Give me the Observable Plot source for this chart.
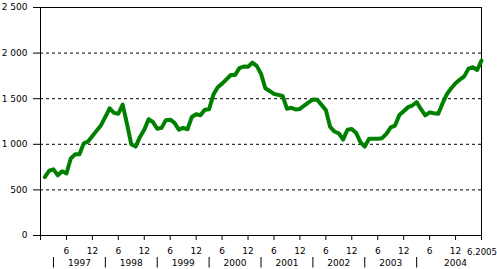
<!DOCTYPE html>
<html>
<head>
<meta charset="utf-8">
<script src="https://cdn.jsdelivr.net/npm/d3@7"></script>
<script src="https://cdn.jsdelivr.net/npm/@observablehq/plot@0.6"></script>
<style>
  html, body { margin: 0; padding: 0; background: #fff; }
  svg { overflow: hidden; display: block; }
</style>
</head>
<body>
<div id="chart"></div>
<script>
// Monthly values, Jan 1997 – Jun 2005
const values = [
  640, 710, 725, 660, 705, 680, 845, 890, 890, 1010, 1030, 1090,      // 1997
  1150, 1210, 1300, 1395, 1345, 1335, 1435, 1225, 1000, 975, 1080, 1160, // 1998
  1275, 1245, 1170, 1180, 1265, 1270, 1235, 1160, 1180, 1165, 1300, 1330, // 1999
  1318, 1380, 1385, 1545, 1625, 1665, 1712, 1760, 1760, 1835, 1852, 1850, // 2000
  1895, 1860, 1775, 1615, 1585, 1552, 1542, 1530, 1390, 1400, 1382, 1388, // 2001
  1425, 1460, 1490, 1488, 1432, 1375, 1190, 1140, 1120, 1052, 1160, 1168, // 2002
  1125, 1023, 975, 1060, 1060, 1062, 1067, 1115, 1185, 1205, 1320, 1362,  // 2003
  1407, 1425, 1462, 1385, 1318, 1350, 1341, 1334, 1450, 1550, 1615, 1670, // 2004
  1710, 1745, 1830, 1845, 1815, 1918                                      // 2005
];
const monthTicks = [0, 6, 12, 18, 24, 30, 36, 42, 48, 54, 60, 66, 72, 78, 84, 90, 96, 102];
const monthTickLabels = ["", "6", "12", "6", "12", "6", "12", "6", "12", "6", "12", "6", "12", "6", "12", "6", "12", ""];
const lastTickLabel = "6.2005";
const years = ["1997", "1998", "1999", "2000", "2001", "2002", "2003", "2004"];
const yearCenters = [9, 21, 33, 45, 57, 69, 81, 96];
const yearSeparators = [3, 15, 27, 39, 51, 63, 75, 87];
const yTicks = [0, 500, 1000, 1500, 2000, 2500];
const gridValues = [500, 1000, 1500, 2000];

const data = values.map((v, i) => ({m: i + 1, v}));
const fmt = d => d3.format(",")(d).replace(/,/g, " ");

const chart = Plot.plot({
  width: 497,
  height: 269,
  marginLeft: 40,
  marginRight: 16,
  marginTop: 7,
  marginBottom: 34,
  style: {fontFamily: "DejaVu Sans, Verdana, sans-serif", fontSize: "9px", color: "#000", background: "#fff"},
  x: {domain: [0, 102]},
  y: {domain: [0, 2500]},
  marks: [
    Plot.ruleY(gridValues, {stroke: "#000", strokeDasharray: "3,3", strokeWidth: 1}),
    Plot.frame({stroke: "#000"}),
    Plot.axisY({ticks: yTicks, tickSize: 7, tickPadding: 6, tickFormat: fmt, label: null}),
    Plot.axisX({ticks: monthTicks, tickSize: 5, tickPadding: 7, label: null,
      tickFormat: d => monthTickLabels[monthTicks.indexOf(d)]}),
    Plot.text([lastTickLabel], {x: () => 102, frameAnchor: "bottom", textAnchor: "end", lineAnchor: "top", dx: 15.5, dy: 12.3,
      fontFamily: "Liberation Sans Narrow, DejaVu Sans Condensed, sans-serif", fontSize: 9.5}),
    Plot.text(years, {x: (d, i) => yearCenters[i], frameAnchor: "bottom", lineAnchor: "bottom", dy: 30.7}),
    Plot.ruleX(yearSeparators, {x: d => d, stroke: "#000", strokeWidth: 1, insetTop: 250, insetBottom: -32.5}),
    Plot.line(data, {x: "m", y: "v", stroke: "#008000", strokeWidth: 4, strokeLinejoin: "round", strokeLinecap: "round"})
  ]
});
document.getElementById("chart").append(chart);
</script>
</body>
</html>
